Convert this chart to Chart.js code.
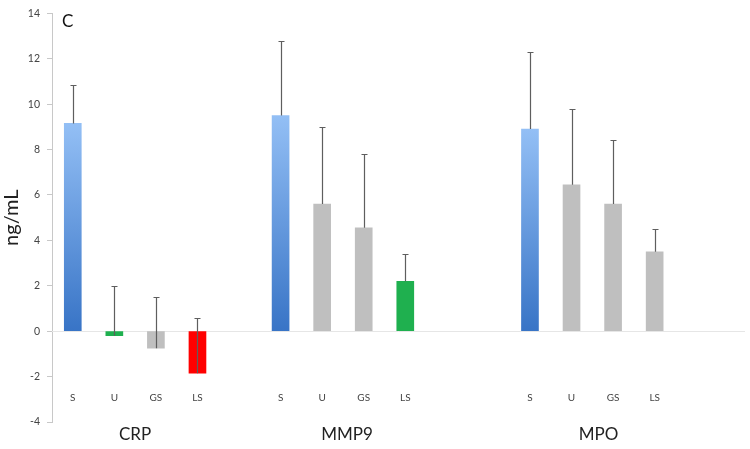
<!DOCTYPE html>
<html>
<head>
    <meta charset="utf-8">
    <title>CRP, MMP9 and MPO levels</title>
    <script src="https://cdn.jsdelivr.net/npm/chart.js"></script>
    <style>
        html, body { margin: 0; padding: 0; background: #fff; }
        .box { width: 750px; height: 449px; }
    </style>
</head>
<body>
    <div class="box">
        <canvas id="markerChart"></canvas>
    </div>
    <script>
        // one slot per bar, '' = empty slot between the marker groups
        const slotLabels = ['S', 'U', 'GS', 'LS', '', 'S', 'U', 'GS', 'LS', '', '', 'S', 'U', 'GS', 'LS', ''];
        const markers = ['CRP', 'MMP9', 'MPO'];
        const markerSlots = [1.5, 6.6, 12.65];   // where each group name sits, in slot units

        const means = [9.15, -0.2, -0.75, -1.85, null, 9.5, 5.6, 4.55, 2.2, null, null, 8.9, 6.45, 5.6, 3.5, null];
        const errs  = [1.7, 2.2, 2.25, 2.45, null, 3.3, 3.4, 3.25, 1.2, null, null, 3.4, 3.35, 2.8, 1.0, null];

        const yMin = -4, yMax = 14, yStep = 2;

        // bar fill per slot ('blue' gets the gradient)
        const barColors = ['blue', '#1fb04f', '#bfbfbf', '#ff0000', null,
                           'blue', '#bfbfbf', '#bfbfbf', '#1fb04f', null, null,
                           'blue', '#bfbfbf', '#bfbfbf', '#bfbfbf', null];

        Chart.defaults.font.family = 'Lato, "Open Sans", sans-serif';

        function barFill(ctx) {
            const c = barColors[ctx.dataIndex];
            if (c !== 'blue') return c;
            const chart = ctx.chart;
            const y = chart.scales.y;
            if (!chart.chartArea || !y) return '#5b8fd9';
            const top = y.getPixelForValue(means[ctx.dataIndex]);
            const base = y.getPixelForValue(0);
            const g = chart.ctx.createLinearGradient(0, top, 0, base);
            g.addColorStop(0, '#93bff5');
            g.addColorStop(1, '#3874c6');
            return g;
        }

        // zero line, error bars (upper only) and the panel letter
        const extras = {
            id: 'extras',
            beforeDatasetsDraw(chart) {
                const { ctx, chartArea, scales: { y } } = chart;
                const y0 = Math.round(y.getPixelForValue(0)) + 0.5;
                ctx.save();
                ctx.strokeStyle = '#e6e6e6';
                ctx.lineWidth = 1;
                ctx.beginPath();
                ctx.moveTo(chartArea.left, y0);
                ctx.lineTo(chart.width - 5, y0);
                ctx.stroke();
                ctx.restore();
            },
            afterDatasetsDraw(chart) {
                const { ctx, scales: { y } } = chart;
                const bars = chart.getDatasetMeta(0).data;
                ctx.save();
                ctx.strokeStyle = '#5e5e5e';
                ctx.lineWidth = 1.2;
                means.forEach((m, i) => {
                    if (m === null) return;
                    const px = Math.round(bars[i].x) + 0.5;
                    const from = y.getPixelForValue(m);
                    const to = Math.round(y.getPixelForValue(m + errs[i])) + 0.5;
                    ctx.beginPath();
                    ctx.moveTo(px, from);
                    ctx.lineTo(px, to);
                    ctx.moveTo(px - 3, to);
                    ctx.lineTo(px + 3, to);
                    ctx.stroke();
                });
                ctx.restore();
            },
            afterDraw(chart) {
                const { ctx, chartArea } = chart;
                ctx.save();
                ctx.fillStyle = '#111';
                ctx.font = '17px Lato, "Open Sans", sans-serif';
                ctx.textBaseline = 'middle';
                ctx.fillText('C', chartArea.left + 10, chartArea.top + 8);
                ctx.restore();
            }
        };

        const markerChart = new Chart(document.getElementById('markerChart'), {
            type: 'bar',
            data: {
                labels: slotLabels,
                datasets: [{
                    label: 'ng/mL',
                    data: means,
                    backgroundColor: barFill,
                    barThickness: 17
                }]
            },
            options: {
                responsive: true,
                maintainAspectRatio: false,
                animation: false,
                layout: { padding: { top: 10, right: 33, bottom: 0, left: 0 } },
                plugins: {
                    legend: { display: false },
                    tooltip: { enabled: false }
                },
                scales: {
                    x: {
                        position: { y: -2.6 },
                        grid: { display: false, drawTicks: false },
                        border: { display: false },
                        ticks: {
                            autoSkip: false,
                            maxRotation: 0,
                            padding: 2,
                            color: '#444',
                            font: { size: 10 }
                        }
                    },
                    x2: {
                        type: 'linear',
                        position: 'bottom',
                        offset: false,
                        bounds: 'data',
                        min: -0.5,
                        max: slotLabels.length - 0.5,
                        grid: { display: false, drawTicks: false, offset: false },
                        border: { display: false },
                        afterBuildTicks: s => { s.ticks = markerSlots.map(v => ({ value: v })); },
                        afterFit: s => { s.height = 27; },
                        ticks: {
                            autoSkip: false,
                            maxRotation: 0,
                            padding: 2,
                            color: '#222',
                            font: { size: 17 },
                            callback: (v, i) => markers[i]
                        }
                    },
                    y: {
                        min: yMin,
                        max: yMax,
                        afterFit: s => { s.width = 52; },
                        grid: { drawOnChartArea: false, tickLength: 5, color: '#c8c8c8' },
                        border: { color: '#c8c8c8' },
                        ticks: {
                            stepSize: yStep,
                            padding: 7,
                            color: '#444',
                            font: { size: 10.5 }
                        },
                        title: {
                            display: true,
                            text: 'ng/mL',
                            color: '#222',
                            font: { size: 20 },
                            padding: { top: 0, bottom: 2 }
                        }
                    }
                }
            },
            plugins: [extras]
        });
    </script>
</body>
</html>
